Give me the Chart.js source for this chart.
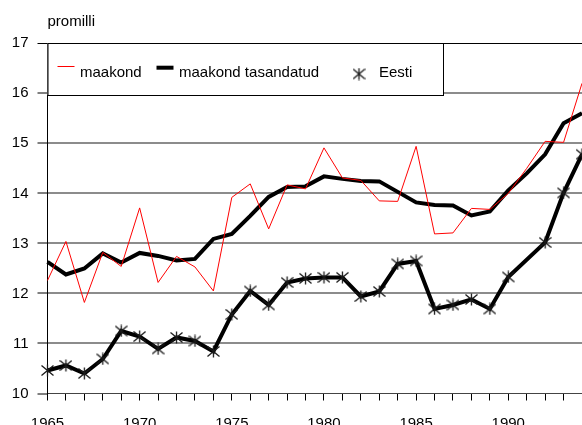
<!DOCTYPE html>
<html>
<head>
<meta charset="utf-8">
<script src="https://cdn.jsdelivr.net/npm/chart.js@4/dist/chart.umd.min.js"></script>
<style>
  html, body { margin: 0; padding: 0; background: #fff; }
</style>
</head>
<body>
<canvas id="myChart" width="582" height="425"></canvas>
<script>
let years = [1965, 1966, 1967, 1968, 1969, 1970, 1971, 1972, 1973, 1974,
             1975, 1976, 1977, 1978, 1979, 1980, 1981, 1982, 1983, 1984,
             1985, 1986, 1987, 1988, 1989, 1990, 1991, 1992, 1993, 1994];
let maakond = [12.26, 13.04, 11.82, 12.82, 12.54, 13.71, 12.22, 12.74, 12.53, 12.05,
               13.92, 14.19, 13.29, 14.17, 14.09, 14.91, 14.31, 14.26, 13.85, 13.84,
               14.94, 13.19, 13.21, 13.70, 13.68, 14.00, 14.50, 15.04, 15.02, 16.20];
let tasandatud = [12.63, 12.38, 12.50, 12.80, 12.62, 12.81, 12.75, 12.66, 12.69, 13.09,
                  13.19, 13.55, 13.93, 14.13, 14.14, 14.34, 14.29, 14.25, 14.24, 14.03,
                  13.82, 13.77, 13.76, 13.56, 13.64, 14.06, 14.40, 14.78, 15.40, 15.60];
let eesti = [10.46, 10.56, 10.40, 10.69, 11.25, 11.14, 10.89, 11.12, 11.05, 10.84,
             11.58, 12.05, 11.77, 12.22, 12.30, 12.32, 12.32, 11.94, 12.04, 12.59,
             12.65, 11.69, 11.77, 11.88, 11.69, 12.33, null, 13.02, 14.01, 14.78];
let yTicks = [10, 11, 12, 13, 14, 15, 16, 17];

const FONT = "'Liberation Sans', Arial, sans-serif";
Chart.defaults.font.family = FONT;
Chart.defaults.font.size = 15;
Chart.defaults.color = "#000";

// asterisk marker like the old spreadsheet "star"
function makeStar(size, color) {
    let c = document.createElement("canvas");
    c.width = size;
    c.height = size;
    let g = c.getContext("2d");
    let m = size / 2, r = size / 2 - 0.5;
    g.strokeStyle = color;
    g.lineWidth = 1.3;
    g.beginPath();
    g.moveTo(m, m - r); g.lineTo(m, m + r);
    g.moveTo(m - r, m - r * 0.85); g.lineTo(m + r, m + r * 0.85);
    g.moveTo(m - r, m + r * 0.85); g.lineTo(m + r, m - r * 0.85);
    g.stroke();
    return c;
}
let star = makeStar(13, "#1a1a1a");

function pts(vals) {
    return years.map((y, i) => ({x: y, y: vals[i]}));
}

// "promilli" caption and the boxed legend
const extras = {
    id: "extras",
    afterDraw(chart) {
        const c = chart.ctx, a = chart.chartArea, ds = chart.data.datasets;
        c.save();
        c.font = "15px " + FONT;
        c.fillStyle = "#000";
        c.textBaseline = "alphabetic";
        c.fillText("promilli", a.left, 25.5);

        c.fillStyle = "#fff";
        c.fillRect(a.left, a.top, 443.5 - a.left, 95 - a.top);
        c.strokeStyle = "#000";
        c.lineWidth = 1;
        c.strokeRect(a.left + 0.5, Math.round(a.top) + 0.5, 443 - a.left, 95 - Math.round(a.top));

        c.strokeStyle = ds[0].borderColor;
        c.lineWidth = 1;
        c.beginPath(); c.moveTo(57.5, 66.5); c.lineTo(74.5, 66.5); c.stroke();
        c.fillStyle = "#000";
        c.fillText(ds[0].label, 80, 77.3);

        c.strokeStyle = ds[1].borderColor;
        c.lineWidth = 4;
        c.beginPath(); c.moveTo(156.5, 67.7); c.lineTo(173.5, 67.7); c.stroke();
        c.fillText(ds[1].label, 179, 77.3);

        c.drawImage(star, 359 - star.width / 2, 74 - star.height / 2);
        c.fillText(ds[2].label, 379, 77.3);
        c.restore();
    }
};

let myChart = document.getElementById("myChart").getContext("2d");
let lineChart = new Chart(myChart, {
    type: "line",
    data: {
        datasets: [{
            label: "maakond",
            data: pts(maakond),
            borderColor: "#ff0000",
            borderWidth: 1,
            pointRadius: 0,
            tension: 0,
            clip: false
        }, {
            label: "maakond tasandatud",
            data: pts(tasandatud),
            borderColor: "#000",
            borderWidth: 4,
            pointRadius: 0,
            tension: 0,
            clip: false
        }, {
            label: "Eesti",
            data: pts(eesti),
            borderColor: "#000",
            borderWidth: 4,
            pointStyle: star,
            pointRadius: 6,
            spanGaps: true,
            tension: 0,
            clip: false
        }]
    },
    options: {
        responsive: false,
        animation: false,
        layout: { autoPadding: false, padding: { top: 43.3, left: 0, right: 0, bottom: 0 } },
        plugins: {
            legend: { display: false },
            tooltip: { enabled: false }
        },
        scales: {
            x: {
                type: "linear",
                min: years[0],
                max: years[years.length - 1],
                ticks: {
                    stepSize: 1,
                    autoSkip: false,
                    maxRotation: 0,
                    padding: 14,
                    callback: v => v % 5 === 0 ? String(v) : ""
                },
                grid: {
                    color: ctx => ctx.tick && ctx.tick.value === years[years.length - 1] ? "#555" : "rgba(0,0,0,0)",
                    tickColor: "#000",
                    tickLength: 7,
                    tickWidth: 1,
                    lineWidth: 1
                },
                border: { color: "#444", width: 1 },
                afterFit: s => { s.height = 31.5; s.paddingLeft = 0; s.paddingRight = 0; }
            },
            y: {
                min: yTicks[0],
                max: yTicks[yTicks.length - 1],
                afterBuildTicks: s => { s.ticks = yTicks.map(v => ({value: v})); },
                ticks: { padding: 9 },
                grid: {
                    color: ctx => ctx.tick.value === 17 ? "#000" : (ctx.tick.value === 10 ? "rgba(0,0,0,0)" : "#8c8c8c"),
                    lineWidth: ctx => ctx.tick.value === 17 ? 1 : 2,
                    tickColor: "#000",
                    tickLength: 10,
                    tickWidth: 1
                },
                border: { color: "#000", width: 1 },
                afterFit: s => { s.width = 47.5; s.paddingTop = 0; s.paddingBottom = 0; }
            }
        }
    },
    plugins: [extras]
});
</script>
</body>
</html>
